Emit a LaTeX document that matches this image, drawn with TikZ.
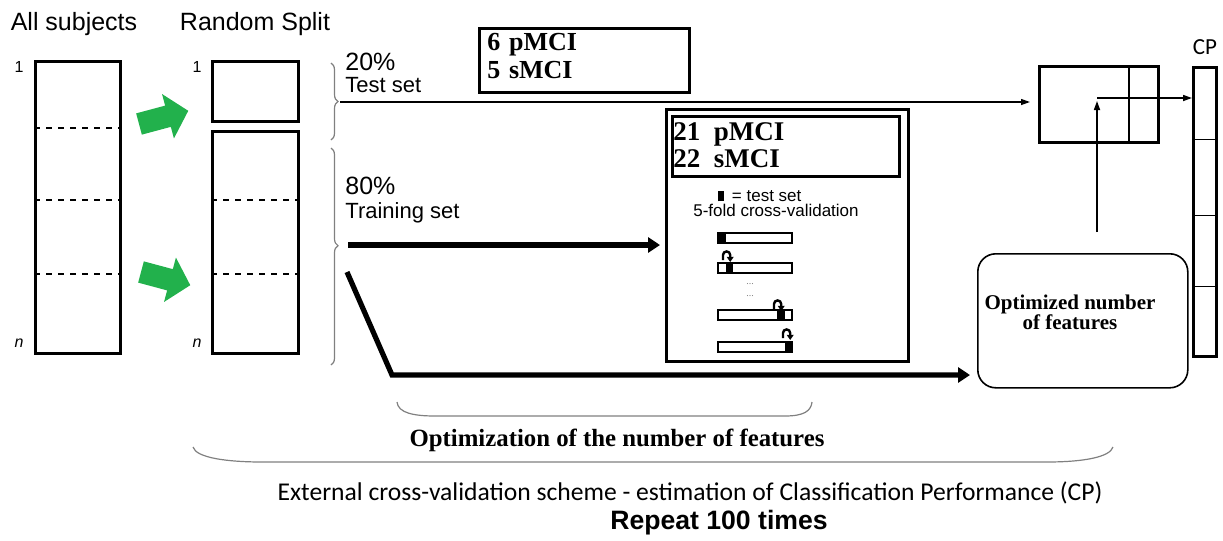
\documentclass[tikz,border=0pt]{standalone}
\usepackage{fontspec}
\setmainfont{Liberation Serif}
\setsansfont{Liberation Sans}
\newfontfamily\cpfont{Carlito}
\usetikzlibrary{positioning,calc,arrows.meta,decorations.pathreplacing}

\definecolor{splitgreen}{RGB}{34,177,76}

\tikzset{
  column/.style={draw, line width=1.4pt, inner sep=0pt, anchor=north west},
  optbox/.style={draw, line width=0.8pt, rounded corners=9pt, inner sep=0pt, anchor=north west},
  heading/.style={font=\sffamily\fontsize{12.5}{14}\selectfont},
  pct/.style={font=\sffamily\fontsize{12.5}{14}\selectfont, anchor=west, inner sep=0pt},
  setlabel/.style={font=\sffamily\fontsize{11}{13}\selectfont, anchor=west, inner sep=0pt},
  idx/.style={font=\sffamily\fontsize{8}{9}\selectfont, inner sep=0pt},
  counts/.style={font=\bfseries\fontsize{13}{14}\selectfont, anchor=base west, inner sep=0pt},
  fold/.style={font=\sffamily\fontsize{8.5}{10}\selectfont, inner sep=0pt},
  split/.style={decorate, decoration={brace, amplitude=3.5pt}, gray, line width=0.6pt},
  bracket/.style={gray, line width=0.6pt},
  thinarrow/.style={line width=0.6pt, -{Triangle[length=4.5pt,width=3pt]}},
  thickarrow/.style={line width=2.6pt, -{Triangle[length=6pt,width=7.5pt]}},
  curl/.style={line width=1.2pt, -{Triangle[length=2.6pt,width=3.4pt]}},
}

\begin{document}
\begin{tikzpicture}[x=0.5pt,y=-0.5pt]
  \useasboundingbox (0,0) rectangle (1223,541);

  % headings
  \node[heading] (allhead) at (74,24) {All subjects};
  \node[heading] (splithead) at (255,24) {Random Split};

  % subject columns
  \node[column, minimum width=42.5pt, minimum height=146pt] (all) at (34,60) {};
  \node[column, minimum width=43pt, minimum height=30pt] (test) at (211,60) {};
  \node[column, minimum width=43pt, minimum height=111pt] (train) at (211,130) {};
  \foreach \y in {128,200,274}
    \draw[dashed, line width=0.6pt] (all.west |- 0,\y) -- (all.east |- 0,\y);
  \foreach \y in {200,274}
    \draw[dashed, line width=0.6pt] (train.west |- 0,\y) -- (train.east |- 0,\y);
  \node[idx] (allfirst) at (19,67) {1};
  \node[idx] (alllast) at (19,343) {\itshape n};
  \node[idx] (splitfirst) at (197,67) {1};
  \node[idx] (splitlast) at (197,343) {\itshape n};

  % green split arrows
  \foreach \x/\y/\r in {139/124/15, 141/272/-15}
    \fill[splitgreen, shift={(\x,\y)}, rotate=\r]
      (0,-11) -- (30,-11) -- (30,-23) -- (51,0) -- (30,23) -- (30,11) -- (0,11) -- cycle;

  % braces
  \draw[split] (331,63) -- (331,140);
  \draw[split, decoration={aspect=0.45}] (331,148) -- (331,365);
  \coordinate (testtip) at (340,102);
  \coordinate (traintip) at (348,245);
  \coordinate (bendstart) at (347,272);
  \coordinate (bendcorner) at (392,375);

  \node[pct] (pcttest) at (345,62) {20\%};
  \node[setlabel] (testlbl) at (345,85) {Test set};
  \node[pct] (pcttrain) at (345,186) {80\%};
  \node[setlabel] (trainlbl) at (345,213) {Training set};

  % test counts
  \node[column, minimum width=105pt, minimum height=32pt] (testcount) at (478,27) {};
  \node[counts] (testp) at (487,50) {6\,\,pMCI};
  \node[counts] (tests) at (487,78) {5\,\,sMCI};

  % inner cross-validation
  \node[column, minimum width=121pt, minimum height=126pt] (cv) at (665,108) {};
  \node[column, minimum width=113.5pt, minimum height=30pt] (traincount) at (671,115) {};
  \node[counts, font=\bfseries\fontsize{13.5}{14}\selectfont] (trainp) at (673,140) {21\ \ pMCI};
  \node[counts, font=\bfseries\fontsize{13.5}{14}\selectfont] (trains) at (673,167) {22\ \ sMCI};
  \node[fold, anchor=west] (legend) at (718,196) {\rule{3pt}{5pt}\, = test set};
  \node[fold] (foldlbl) at (776,210) {5-fold cross-validation};
  \foreach \y/\a/\b in {233/718/726, 263/726/733, 310/777/785, 342/785/792} {
    \draw[line width=0.6pt] (718,\y) rectangle (792,\y+10);
    \fill (\a,\y) rectangle (\b,\y+10);
  }
  \foreach \x/\y in {723/251, 774/300, 783/329}
    \draw[curl] (\x,\y+9) -- (\x,\y+4) arc[start angle=180, end angle=0, radius=1.8pt] -- (\x+7.2,\y+11);
  \node[gray, font=\fontsize{5}{5}\selectfont] (dotsa) at (750,284) {...};
  \node[gray, font=\fontsize{5}{5}\selectfont] (dotsb) at (750,296) {...};

  % classification result and CP
  \node[column, minimum width=59.5pt, minimum height=38pt] (result) at (1038,65) {};
  \draw[line width=1.4pt] (result.north -| 1129,0) -- (result.south -| 1129,0);
  \node[column, minimum width=11.5pt, minimum height=144.5pt] (cp) at (1192,66) {};
  \foreach \y in {139,215,286}
    \draw[line width=0.5pt] (cp.west |- 0,\y) -- (cp.east |- 0,\y);
  \node[font=\cpfont\fontsize{11.5}{13}\selectfont] (cplbl) at (1205,47) {CP};

  \node[optbox, minimum width=105pt, minimum height=67pt] (opt) at (977,253) {};
  \node[font=\bfseries\fontsize{10.5}{10}\selectfont, align=center] (opttext) at (1070,312) {Optimized number\\of features};
  \coordinate (optout) at (1097,232);
  \coordinate (join) at (1097,98);

  % connectors
  \draw[thinarrow, shorten >=4pt] (testtip) -- (testtip -| result.west);
  \draw[thickarrow, shorten >=2.5pt] (traintip) -- (traintip -| cv.west);
  \draw[thickarrow, shorten >=3.5pt] (bendstart) -- (bendcorner) -- (bendcorner -| opt.west);
  \draw[thinarrow, line width=0.8pt, shorten >=1.5pt] (optout) -- (join);
  \draw[thinarrow, line width=0.8pt] (join) -- (join -| cp.west);

  % bottom brackets
  \draw[bracket] (397,402) .. controls (398,413) and (414,416) .. (435,416) -- (785,416)
    .. controls (804,416) and (811,411) .. (812,402);
  \node[font=\bfseries\fontsize{12.4}{14}\selectfont] (optcap) at (617,440) {Optimization of the number of features};
  \draw[bracket] (193,447) .. controls (196,458) and (228,462) .. (262,462) -- (1047,462)
    .. controls (1084,462) and (1110,457) .. (1113,447);
  \node[font=\cpfont\fontsize{12.8}{14}\selectfont] (extcap) at (690,493) {External cross-validation scheme - estimation of Classification Performance (CP)};
  \node[font=\sffamily\bfseries\fontsize{13.3}{15}\selectfont] (repeatcap) at (719,523) {Repeat 100 times};
\end{tikzpicture}
\end{document}
